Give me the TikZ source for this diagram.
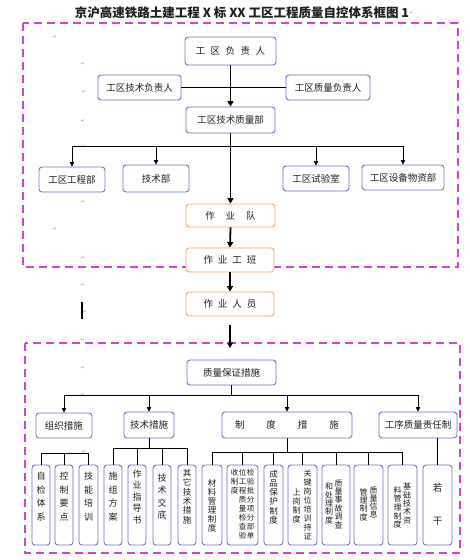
\documentclass[tikz,border=0pt]{standalone}
\usepackage{fontspec}
\setmainfont{Noto Sans CJK SC}
\newfontfamily\symf{DejaVu Sans}
\usetikzlibrary{arrows.meta}
\definecolor{boxc}{RGB}{112,112,196}
\definecolor{orgc}{RGB}{232,172,104}
\definecolor{magc}{RGB}{214,64,214}
\definecolor{txtc}{RGB}{30,30,30}
\definecolor{pmc}{RGB}{150,150,150}
\begin{document}
\begin{tikzpicture}[x=1pt,y=-1pt,
  pbox/.style={draw=boxc, line width=0.9pt, rounded corners=3pt, fill=white, inner sep=0pt, text=txtc, font=\fontsize{9.5}{11}\selectfont},
  obox/.style={pbox, draw=orgc},
  wh/.style 2 args={minimum width=#1, minimum height=#2},
  ln/.style={line width=0.7pt},
  arr/.style={line width=0.7pt, -{Triangle[length=4.5pt,width=4.5pt]}},
  tarr/.style={line width=1.8pt, -{Triangle[length=5.5pt,width=6pt]}},
  dbox/.style={draw=magc, line width=2.2pt, dash pattern=on 8pt off 5pt},
  vt/.style={inner sep=0pt, align=center, text=txtc},
  pm/.style={inner sep=0pt, text=pmc, font=\symf\fontsize{5}{5}\selectfont},
]
\useasboundingbox (0,0) rectangle (469,560);
\fill[white] (0,0) rectangle (469,560);

% title
\node[font=\bfseries\fontsize{12.5}{14}\selectfont, inner sep=0pt, text=txtc] (title) at (242,13) {京沪高速铁路土建工程 X 标 XX 工区工程质量自控体系框图 1};
\node[pm, anchor=west] (tpm) at (title.east) {↵};

% dashed frames
\draw[dbox] (23,23) rectangle (458,267);
\draw[dbox] (25,343) rectangle (460,553);

% paragraph marks
\foreach \px/\py [count=\i] in {55/37,83/64,84/92,83/121,83/147,83/202,55/229,83/258,83/285,85/312,83/340,83/368,83/395,84/452}
  \node[pm] (pm\i) at (\px,\py) {↵};
\draw[line width=1.4pt] (82,302) -- (82,319);

% upper organisation
\node[pbox, wh={91}{28}] (fz) at (230.5,51) {工\hspace{5.5pt}区\hspace{5.5pt}负\hspace{5.5pt}责\hspace{5.5pt}人};
\node[pbox, wh={83}{25}] (js) at (139.5,87.5) {工区技术负责人};
\node[pbox, wh={84}{25}] (zl) at (328,87.5) {工区质量负责人};
\node[pbox, wh={89}{26}] (jz) at (230.5,120) {工区技术质量部};
\node[pbox, wh={66}{25}] (gc) at (72,179.5) {工区工程部};
\node[pbox, wh={66}{27}] (jsb) at (156,178.5) {技术部};
\node[pbox, wh={66}{25}] (sy) at (316,178.5) {工区试验室};
\node[pbox, wh={82}{25}] (sb) at (403,177.5) {工区设备物资部};
\node[obox, wh={89}{23}] (zyd) at (230.5,215.5) {作\hspace{11pt}业\hspace{11pt}队};
\node[obox, wh={88}{24}] (zygb) at (230,260) {作\hspace{5pt}业\hspace{5pt}工\hspace{5pt}班};
\node[obox, wh={88}{24}] (zyry) at (230,304) {作\hspace{5pt}业\hspace{5pt}人\hspace{5pt}员};

\draw[ln] (js.east) -- (zl.west);
\draw[tarr] (fz.south) -- (jz.north);
\coordinate (hb) at (230,146);
\draw[ln] (gc.north |- hb) -- (sb.north |- hb);
\foreach \n in {gc,jsb,sy,sb} \draw[arr] (\n.north |- hb) -- (\n.north);
\draw[tarr] (jz.south) -- (zyd.north);
\draw[tarr] (zyd.south) -- (zygb.north);
\draw[tarr] (zygb.south) -- (zyry.north);
\coordinate (dn) at (230,348);
\draw[tarr] ([yshift=-9pt]zyry.south) -- (dn);

% lower measures
\node[pbox, wh={89}{25}] (zb) at (231.5,372.5) {质量保证措施};
\node[pbox, wh={56}{25}] (zz) at (64,425.5) {组织措施};
\node[pbox, wh={50}{26}] (jc) at (149,425) {技术措施};
\node[pbox, wh={130}{26}] (zd) at (287,425) {制\hspace{22pt}度\hspace{22pt}措\hspace{22pt}施};
\node[pbox, wh={78}{26}] (gx) at (418,425) {工序质量责任制};
\coordinate (hb2) at (231,395);
\draw[ln] (zb.south) -- (zb.south |- hb2);
\draw[ln] (zz.north |- hb2) -- (gx.north |- hb2);
\foreach \n in {zz,jc,zd,gx} \draw[arr] (\n.north |- hb2) -- (\n.north);

% bottom boxes
\foreach \n/\cx/\w in {b1/41/18,b2/64/18,b3/88.5/19,b4/113/18,b5/137/18,b6/162/18,b7/187/18,b8/212/20,b9/242.5/31,b10/273.5/19,b11/302.5/29,b12/336/28,b13/368.5/29,b14/402.5/29,b15/437.5/29}
  \node[pbox, wh={\w}{80}] (\n) at (\cx,505) {};

\coordinate (y1) at (0,453);
\draw[ln] (b1.north |- y1) -- (b3.north |- y1);
\foreach \n in {b1,b2,b3} \draw[ln] (\n.north |- y1) -- (\n.north);
\coordinate (y2) at (0,448);
\draw[ln] (jc.south) -- (jc.south |- y2);
\draw[ln] (b4.north |- y2) -- (b7.north |- y2);
\foreach \n in {b4,b5,b6,b7} \draw[ln] (\n.north |- y2) -- (\n.north);
\coordinate (y3) at (0,452);
\draw[ln] (zd.south) -- (zd.south |- y3);
\draw[ln] (b8.north |- y3) -- (b14.north |- y3);
\foreach \n in {b8,b9,b10,b11,b12,b13,b14} \draw[ln] (\n.north |- y3) -- (\n.north);
\draw[ln] (b15.north |- gx.south) -- (b15.north);

% vertical texts
\node[vt, font=\fontsize{9}{13.7}\selectfont] (t1) at (41,496.5) {自\\检\\体\\系};
\node[vt, font=\fontsize{9}{13.7}\selectfont] (t2) at (64,496.5) {控\\制\\要\\点};
\node[vt, font=\fontsize{9}{13.7}\selectfont] (t3) at (88.5,496.5) {技\\能\\培\\训};
\node[vt, font=\fontsize{9}{13.7}\selectfont] (t4) at (113,496.5) {施\\组\\方\\案};
\node[vt, font=\fontsize{9}{11.5}\selectfont] (t5) at (137,497) {作\\业\\指\\导\\书};
\node[vt, font=\fontsize{9}{12.3}\selectfont] (t6) at (162,496.5) {技\\术\\交\\底};
\node[vt, font=\fontsize{8.5}{9.4}\selectfont] (t7) at (187,496.5) {其\\它\\技\\术\\措\\施};
\node[vt, font=\fontsize{8.5}{9}\selectfont] (t8) at (212,505.5) {材\\料\\管\\理\\制\\度};
\node[vt, font=\fontsize{7.5}{9}\selectfont] (t9a) at (250.5,504.5) {检\\验\\批\\分\\项\\分\\部\\单};
\node[vt, font=\fontsize{7.5}{9}\selectfont] (t9b) at (242.5,504.5) {位\\工\\程\\质\\量\\检\\查\\验};
\node[vt, font=\fontsize{7.5}{9}\selectfont] (t9c) at (234.5,482) {收\\制\\度};
\node[vt, font=\fontsize{8.5}{9.2}\selectfont] (t10) at (273.5,497) {成\\品\\保\\护\\制\\度};
\node[vt, font=\fontsize{8}{9}\selectfont] (t11a) at (307.5,504.5) {关\\键\\岗\\位\\培\\训\\持\\证};
\node[vt, font=\fontsize{8}{8.7}\selectfont] (t11b) at (296.5,506) {上\\岗\\制\\度};
\node[vt, font=\fontsize{8}{8.4}\selectfont] (t12a) at (338.5,504) {质\\量\\事\\故\\调\\查};
\node[vt, font=\fontsize{8}{8.3}\selectfont] (t12b) at (329,503.5) {和\\处\\理\\制\\度};
\node[vt, font=\fontsize{8}{8}\selectfont] (t13a) at (373.5,502) {质\\量\\信\\息};
\node[vt, font=\fontsize{8}{8.3}\selectfont] (t13b) at (363.5,504.5) {管\\理\\制\\度};
\node[vt, font=\fontsize{8}{8.3}\selectfont] (t14a) at (407,503.5) {基\\础\\技\\术\\资};
\node[vt, font=\fontsize{8}{8.7}\selectfont] (t14b) at (397.5,507.5) {料\\管\\理\\制\\度};
\node[vt, font=\fontsize{9.5}{33}\selectfont] (t15) at (437.5,504.5) {若\\干};
\end{tikzpicture}
\end{document}
